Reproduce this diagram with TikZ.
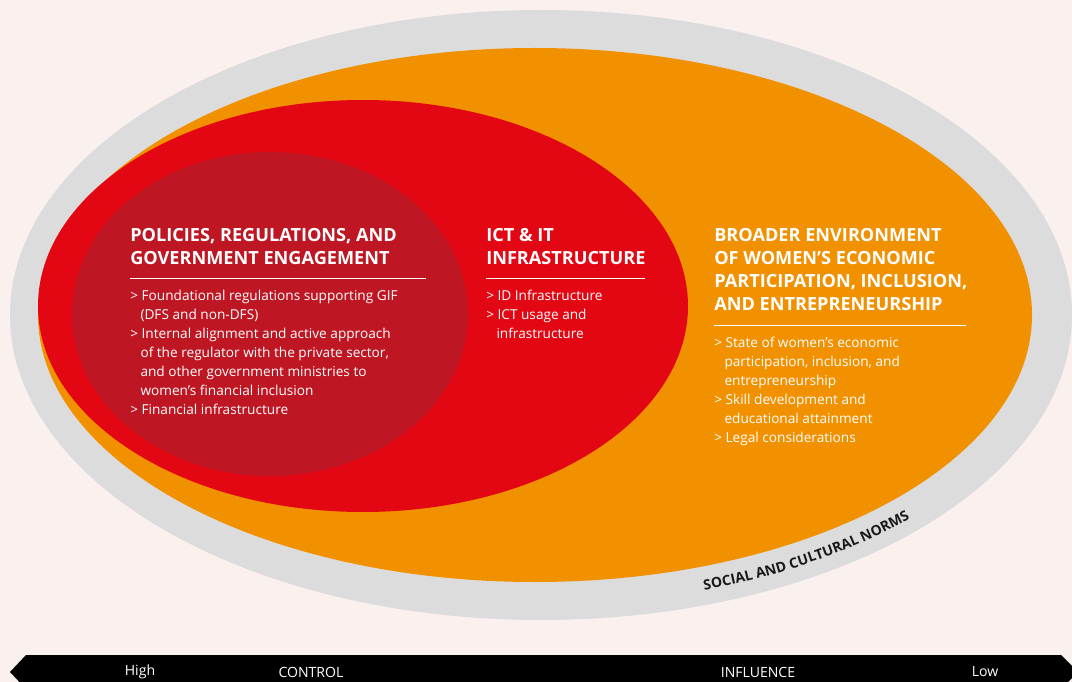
\documentclass[tikz,border=0pt]{standalone}
\usepackage{fontspec}
\setmainfont{Open Sans}
\usetikzlibrary{decorations.text}

\definecolor{bgpink}{RGB}{250,240,237}
\definecolor{normgray}{RGB}{220,220,220}
\definecolor{envorange}{RGB}{242,145,0}
\definecolor{ictred}{RGB}{227,6,19}
\definecolor{polred}{RGB}{190,22,34}

% hanging indent for continued bullet lines
\newcommand{\cont}{\hspace*{0.75em}}

\tikzset{
  head/.style={anchor=north west, inner sep=0pt, align=left, text=white,
    font=\bfseries\fontsize{12.9}{16.4}\selectfont},
  body/.style={anchor=north west, inner sep=0pt, align=left, text=white,
    font=\fontsize{9.7}{13.5}\selectfont},
  rule/.style={white, line width=0.6pt},
  axislabel/.style={text=white, inner sep=0pt, font=\fontsize{10}{12}\selectfont}
}

\begin{document}
\begin{tikzpicture}[x=0.025cm, y=-0.025cm]
  \fill[bgpink] (0,0) rectangle (1072,682);
  \clip (0,0) rectangle (1072,682);

  % rings, outside in
  \fill[normgray] (541,315) ellipse [x radius=531, y radius=305];
  \fill[envorange] (535,315) ellipse [x radius=497, y radius=267];
  \fill[ictred] (363,306) ellipse [x radius=325, y radius=206];
  \fill[polred] (270,314) ellipse [x radius=198, y radius=162];

  % policies
  \node[head] (polhead) at (130,228) {POLICIES, REGULATIONS, AND\\GOVERNMENT ENGAGEMENT};
  \draw[rule] (130,278) -- (426,278);
  \node[body] (polbody) at (130,290) {%
    > Foundational regulations supporting GIF\\
    \cont(DFS and non-DFS)\\
    > Internal alignment and active approach\\
    \cont of the regulator with the private sector,\\
    \cont and other government ministries to\\
    \cont women’s financial inclusion\\
    > Financial infrastructure};

  % ict
  \node[head] (icthead) at (486,228) {ICT \& IT\\INFRASTRUCTURE};
  \draw[rule] (486,278) -- (645,278);
  \node[body] (ictbody) at (486,290) {%
    > ID Infrastructure\\
    > ICT usage and\\
    \cont infrastructure};

  % broader environment
  \node[head] (envhead) at (714,228) {BROADER ENVIRONMENT\\OF WOMEN'S ECONOMIC\\PARTICIPATION, INCLUSION,\\AND ENTREPRENEURSHIP};
  \draw[rule] (714,325) -- (966,325);
  \node[body] (envbody) at (714,337) {%
    > State of women's economic\\
    \cont participation, inclusion, and\\
    \cont entrepreneurship\\
    > Skill development and\\
    \cont educational attainment\\
    > Legal considerations};

  % norms label on the grey band
  \path[decorate, decoration={text along path, text align=center,
      text={|\bfseries\fontsize{10}{11}\selectfont\color{black!90}|SOCIAL AND CULTURAL NORMS}}]
    plot[domain=79.5:34.5, samples=50] ({541+518*cos(\x)}, {315+290*sin(\x)});

  % control / influence bar
  \fill[black] (10,672) -- (26,655) -- (1061,655) -- (1078,672) -- (1061,689) -- (26,689) -- cycle;
  \node[axislabel] (high) at (140,672) {High};
  \node[axislabel] (control) at (311,672) {CONTROL};
  \node[axislabel] (influence) at (758,672) {INFLUENCE};
  \node[axislabel] (low) at (985,672) {Low};
\end{tikzpicture}
\end{document}
